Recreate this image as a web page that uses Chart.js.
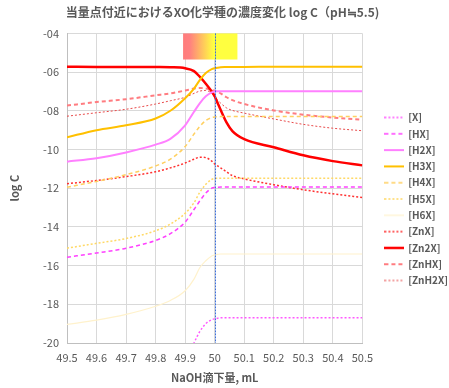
<!DOCTYPE html>
<html>
<head>
<meta charset="utf-8">
<script src="https://cdn.jsdelivr.net/npm/chart.js@4.4.1/dist/chart.umd.min.js"></script>
<style>
  html, body { margin: 0; padding: 0; background: #fff; }
  #wrap { width: 449px; height: 388px; }
</style>
</head>
<body>
<div id="wrap"><canvas id="chart" width="449" height="388"></canvas></div>
<script>
// NaOH volume, mL
var xs = [49.5, 49.6, 49.7, 49.8, 49.85, 49.9, 49.93, 49.95, 49.97, 49.99, 50.0, 50.01, 50.02, 50.04, 50.06, 50.1, 50.2, 50.3, 50.4, 50.5];

// log C for each species
var cX     = [-23.5, -23.2, -22.8, -22.3, -21.9, -21.1, -20.0, -19.4, -19.0, -18.8, -18.75, -18.72, -18.7, -18.7, -18.7, -18.7, -18.7, -18.7, -18.7, -18.7];
var cHX    = [-15.57, -15.35, -15.1, -14.7, -14.35, -13.75, -13.1, -12.65, -12.25, -12.0, -11.96, -11.95, -11.94, -11.94, -11.94, -11.94, -11.94, -11.94, -11.94, -11.94];
var cH2X   = [-10.63, -10.45, -10.15, -9.75, -9.45, -8.75, -8.05, -7.6, -7.25, -7.05, -7.0, -6.99, -6.99, -6.99, -6.99, -6.99, -6.99, -6.99, -6.99, -6.99];
var cH3X   = [-9.37, -9.0, -8.75, -8.4, -8.0, -7.35, -6.85, -6.4, -6.05, -5.85, -5.8, -5.77, -5.75, -5.74, -5.73, -5.73, -5.72, -5.72, -5.72, -5.72];
var cH4X   = [-11.95, -11.65, -11.3, -10.85, -10.5, -9.85, -9.2, -8.8, -8.5, -8.35, -8.32, -8.31, -8.3, -8.3, -8.3, -8.3, -8.3, -8.3, -8.3, -8.3];
var cH5X   = [-15.1, -14.85, -14.6, -14.2, -13.85, -13.3, -12.75, -12.2, -11.8, -11.55, -11.5, -11.49, -11.48, -11.48, -11.48, -11.48, -11.48, -11.48, -11.48, -11.48];
var cH6X   = [-19.04, -18.82, -18.52, -18.1, -17.8, -17.3, -16.7, -16.1, -15.75, -15.5, -15.45, -15.42, -15.4, -15.4, -15.4, -15.4, -15.4, -15.4, -15.4, -15.4];
var cZnX   = [-11.77, -11.6, -11.4, -11.15, -10.95, -10.7, -10.5, -10.4, -10.42, -10.6, -10.75, -10.85, -10.95, -11.15, -11.35, -11.52, -11.82, -12.08, -12.29, -12.48];
var cZn2X  = [-5.72, -5.73, -5.73, -5.74, -5.75, -5.8, -5.95, -6.25, -6.6, -7.0, -7.25, -7.6, -7.95, -8.6, -9.05, -9.47, -9.88, -10.3, -10.6, -10.82];
var cZnHX  = [-7.73, -7.55, -7.4, -7.2, -7.1, -6.95, -6.85, -6.82, -6.85, -6.92, -6.97, -7.03, -7.1, -7.3, -7.45, -7.65, -7.98, -8.2, -8.35, -8.46];
var cZnH2X = [-8.28, -8.1, -7.92, -7.65, -7.48, -7.3, -7.1, -6.98, -6.95, -7.1, -7.3, -7.45, -7.6, -7.85, -7.98, -8.12, -8.42, -8.7, -8.9, -9.03];

// equivalence point and coloured band above the plot
var eqPoint = 50.0;
var bandStart = 49.893;
var bandEnd = 50.077;
var bandTop = -4;
var bandBottom = -5.35;

var grey = '#595959';
var font = '"Noto Sans CJK JP", "Noto Sans", sans-serif';
var legendShiftX = 17;
var legendShiftY = 5;

function pts(ys) {
    return xs.map(function (x, i) { return { x: x, y: ys[i] }; });
}

// small line sample used as the legend marker (keeps the dash pattern)
function swatch(color, width, dash) {
    var c = document.createElement('canvas');
    c.width = 20;
    c.height = 8;
    var g = c.getContext('2d');
    g.strokeStyle = color;
    g.lineWidth = width;
    g.setLineDash(dash);
    g.beginPath();
    g.moveTo(0, 4);
    g.lineTo(20, 4);
    g.stroke();
    return c;
}

function series(label, ys, color, width, dash) {
    return {
        label: label,
        data: pts(ys),
        borderColor: color,
        backgroundColor: color,
        borderWidth: width,
        borderDash: dash,
        pointRadius: 0,
        pointStyle: swatch(color, width, dash),
        fill: false,
        cubicInterpolationMode: 'monotone'
    };
}

var overlay = {
    id: 'overlay',
    afterLayout: function (chart) {
        // push the legend towards the right edge like the original
        chart.legend.left += legendShiftX;
        chart.legend.right += legendShiftX;
        chart.legend.top += legendShiftY;
        chart.legend.bottom += legendShiftY;
    },
    beforeDatasetsDraw: function (chart) {
        var ctx = chart.ctx;
        var xa = chart.scales.x, ya = chart.scales.y;
        var x0 = xa.getPixelForValue(bandStart), x1 = xa.getPixelForValue(bandEnd);
        var y0 = ya.getPixelForValue(bandTop), y1 = ya.getPixelForValue(bandBottom);
        var g = ctx.createLinearGradient(x0, 0, x1, 0);
        g.addColorStop(0, '#ff7c7c');
        g.addColorStop(0.12, '#ff8080');
        g.addColorStop(0.56, '#ffff40');
        g.addColorStop(1, '#ffff40');
        ctx.save();
        ctx.fillStyle = g;
        ctx.fillRect(x0, y0, x1 - x0, y1 - y0);
        ctx.restore();
    },
    afterDatasetsDraw: function (chart) {
        var ctx = chart.ctx;
        var a = chart.chartArea;
        var x = Math.round(chart.scales.x.getPixelForValue(eqPoint)) + 0.5;
        ctx.save();
        ctx.strokeStyle = '#3d6fd9';
        ctx.lineWidth = 1;
        ctx.setLineDash([2, 1]);
        ctx.beginPath();
        ctx.moveTo(x, a.top);
        ctx.lineTo(x, a.bottom);
        ctx.stroke();
        ctx.restore();
    }
};

var ctx = document.getElementById('chart').getContext('2d');
var myChart = new Chart(ctx, {
    type: 'line',
    data: {
        datasets: [
            series('[X]', cX, '#ff59ff', 1.5, [2, 2]),
            series('[HX]', cHX, '#ff40ff', 1.5, [4, 3]),
            series('[H2X]', cH2X, '#ff80ff', 2, []),
            series('[H3X]', cH3X, '#ffc000', 2, []),
            series('[H4X]', cH4X, '#ffd060', 1.5, [4, 3]),
            series('[H5X]', cH5X, '#ffd966', 1.5, [2, 2]),
            series('[H6X]', cH6X, '#fff2cc', 1.2, []),
            series('[ZnX]', cZnX, '#ff3030', 1.5, [2, 2]),
            series('[Zn2X]', cZn2X, '#ff0000', 2.5, []),
            series('[ZnHX]', cZnHX, '#ff7c80', 2, [4, 3]),
            series('[ZnH2X]', cZnH2X, '#e84a4a', 1, [2, 2])
        ]
    },
    options: {
        responsive: false,
        animation: false,
        layout: { padding: { left: 4, right: 8, top: 0, bottom: 0 } },
        plugins: {
            title: {
                display: true,
                text: '当量点付近におけるXO化学種の濃度変化 log C（pH≒5.5)',
                color: grey,
                font: { family: font, size: 12, weight: 'bold' },
                padding: { top: 5, bottom: 14 }
            },
            legend: {
                position: 'right',
                labels: {
                    color: grey,
                    font: { family: font, size: 10, weight: 'bold' },
                    usePointStyle: true,
                    pointStyleWidth: 17.5,
                    boxWidth: 17.5,
                    padding: 6.3
                }
            },
            tooltip: { enabled: false }
        },
        scales: {
            x: {
                type: 'linear',
                min: 49.5,
                max: 50.5,
                afterFit: function (s) { s.height = 45; },
                grid: { color: '#d9d9d9', drawTicks: false },
                border: { color: '#bfbfbf' },
                ticks: {
                    stepSize: 0.1,
                    color: grey,
                    padding: 8,
                    font: { family: font, size: 11 },
                    callback: function (v) { return String(Number(v.toFixed(1))); }
                },
                title: {
                    display: true,
                    text: 'NaOH滴下量, mL',
                    color: grey,
                    font: { family: font, size: 11, weight: 'bold' },
                    padding: { top: 9 }
                }
            },
            y: {
                min: -20,
                max: -4,
                afterFit: function (s) { s.width = 63; },
                grid: { color: '#d9d9d9', drawTicks: false },
                border: { color: '#bfbfbf' },
                ticks: {
                    stepSize: 2,
                    color: grey,
                    padding: 8,
                    font: { family: font, size: 11 },
                    callback: function (v) { return '-' + String(Math.abs(v)).padStart(2, '0'); }
                },
                title: {
                    display: true,
                    text: 'log C',
                    color: grey,
                    font: { family: font, size: 11, weight: 'bold' }
                }
            }
        }
    },
    plugins: [overlay]
});
</script>
</body>
</html>
